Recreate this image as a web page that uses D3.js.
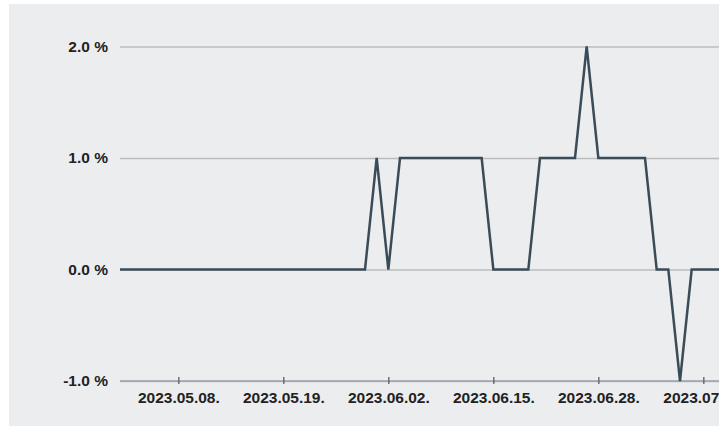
<!DOCTYPE html>
<html>
<head>
<meta charset="utf-8">
<script src="https://cdn.jsdelivr.net/npm/d3@7"></script>
<style>
  html, body { margin: 0; padding: 0; background: #fff; }
  svg text { font-family: "Liberation Sans", Arial, sans-serif; font-weight: bold; fill: #222; }
</style>
</head>
<body>
<svg id="chart" width="726" height="427"></svg>
<script>
// trading days (Hungarian calendar) and daily change in %
let dates = [
  '2023.04.28.', '2023.05.02.', '2023.05.03.', '2023.05.04.', '2023.05.05.',
  '2023.05.08.', '2023.05.09.', '2023.05.10.', '2023.05.11.', '2023.05.12.',
  '2023.05.15.', '2023.05.16.', '2023.05.17.', '2023.05.18.', '2023.05.19.',
  '2023.05.22.', '2023.05.23.', '2023.05.24.', '2023.05.25.', '2023.05.26.',
  '2023.05.30.', '2023.05.31.', '2023.06.01.', '2023.06.02.',
  '2023.06.05.', '2023.06.06.', '2023.06.07.', '2023.06.08.', '2023.06.09.',
  '2023.06.12.', '2023.06.13.', '2023.06.14.', '2023.06.15.', '2023.06.16.',
  '2023.06.19.', '2023.06.20.', '2023.06.21.', '2023.06.22.', '2023.06.23.',
  '2023.06.26.', '2023.06.27.', '2023.06.28.', '2023.06.29.', '2023.06.30.',
  '2023.07.03.', '2023.07.04.', '2023.07.05.', '2023.07.06.', '2023.07.07.',
  '2023.07.10.', '2023.07.11.', '2023.07.12.', '2023.07.13.'
];
let values = [
  0, 0, 0, 0, 0,
  0, 0, 0, 0, 0,
  0, 0, 0, 0, 0,
  0, 0, 0, 0, 0,
  0, 0, 1, 0,
  1, 1, 1, 1, 1,
  1, 1, 1, 0, 0,
  0, 0, 1, 1, 1,
  1, 2, 1, 1, 1,
  1, 1, 0, 0, -1,
  0, 0, 0, 0
];
let xTicks = ['2023.05.08.', '2023.05.19.', '2023.06.02.', '2023.06.15.', '2023.06.28.', '2023.07.11.'];
let yTicks = [-1, 0, 1, 2];

let svg = d3.select('#chart');

// panel
let panel = {x: 9, y: 4, w: 710, h: 422};
svg.append('defs').append('clipPath').attr('id', 'clip')
    .append('rect')
      .attr('x', panel.x).attr('y', panel.y)
      .attr('width', panel.w).attr('height', panel.h);
svg.append('rect')
    .attr('x', panel.x).attr('y', panel.y)
    .attr('width', panel.w).attr('height', panel.h)
    .attr('fill', '#ecedef');

let g = svg.append('g').attr('clip-path', 'url(#clip)');

// the plot runs on past the panel's right edge, so the last date is cut
let x = d3.scalePoint()
          .domain(dates)
          .range([120, 120 + 52 * 595 / 51]);

let y = d3.scaleLinear()
          .domain([-1, 2])
          .range([381, 46.5]);

// y grid + labels
let yAxis = g.append('g')
    .attr('transform', 'translate(120,0)')
    .call(d3.axisLeft(y)
        .tickValues(yTicks)
        .tickSize(-620)
        .tickPadding(12)
        .tickFormat(d => d.toFixed(1) + ' %'));
yAxis.select('.domain').remove();
yAxis.selectAll('.tick line').attr('stroke', '#bcbcbc').attr('stroke-width', 1.3);
yAxis.selectAll('.tick text').style('font-size', '15.5px');

// x axis
let xAxis = g.append('g')
    .attr('transform', 'translate(0,' + y(-1) + ')')
    .call(d3.axisBottom(x)
        .tickValues(xTicks)
        .tickSize(3)
        .tickPadding(8)
        .tickSizeOuter(0));
xAxis.select('.domain').attr('d', 'M120,0H' + (panel.x + panel.w)).attr('stroke', '#9aa3ab').attr('stroke-width', 1.3);
xAxis.selectAll('.tick line').attr('y1', -4).attr('stroke', '#55606a').attr('stroke-width', 1.3);
xAxis.selectAll('.tick text').style('font-size', '15.5px');

// line
let line = d3.line()
    .x((d, i) => x(dates[i]))
    .y(d => y(d));
g.append('path')
    .datum(values)
    .attr('d', line)
    .attr('fill', 'none')
    .attr('stroke', '#3b4c59')
    .attr('stroke-width', 2.5)
    .attr('stroke-linejoin', 'miter');
</script>
</body>
</html>
